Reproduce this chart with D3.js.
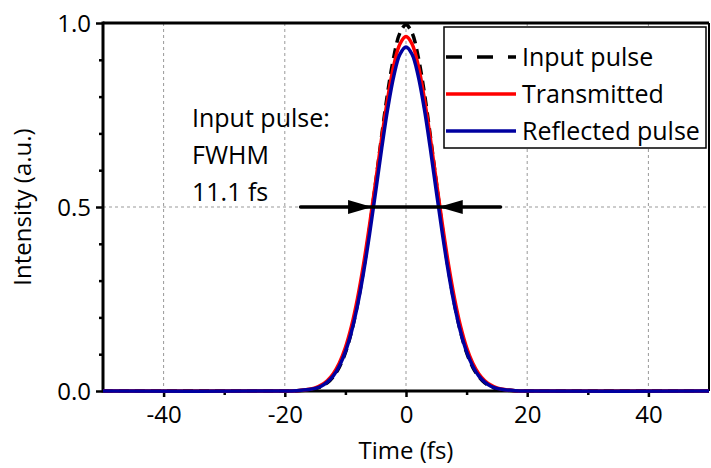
<!DOCTYPE html>
<html>
<head>
<meta charset="utf-8">
<script src="https://cdn.jsdelivr.net/npm/d3@7"></script>
<style>
  body { margin: 0; background: #fff; }
  svg text { font-family: "Open Sans", "Noto Sans", sans-serif; fill: #000; }
</style>
</head>
<body>
<svg id="chart" width="711" height="468"></svg>
<script>
// time axis samples (fs)
const times = [-50, -20, -18, -16, -15, -14, -13, -12, -11, -10, -9, -8, -7, -6, -5, -4, -3, -2, -1, 0,
  1, 2, 3, 4, 5, 6, 7, 8, 9, 10, 11, 12, 13, 14, 15, 16, 18, 20, 50];

const inputPulse = [0, 0, 0.0007, 0.003, 0.006, 0.012, 0.022, 0.039, 0.065, 0.104, 0.161, 0.236, 0.330, 0.443, 0.567, 0.695, 0.813, 0.909, 0.973, 0.995,
  0.973, 0.909, 0.813, 0.695, 0.567, 0.443, 0.330, 0.236, 0.161, 0.104, 0.065, 0.039, 0.022, 0.012, 0.006, 0.003, 0.0007, 0, 0];

const transmitted = [0, 0, 0.001, 0.0045, 0.0086, 0.016, 0.028, 0.047, 0.076, 0.118, 0.176, 0.252, 0.345, 0.453, 0.570, 0.689, 0.797, 0.886, 0.943, 0.963,
  0.943, 0.886, 0.797, 0.689, 0.570, 0.453, 0.345, 0.252, 0.176, 0.118, 0.076, 0.047, 0.028, 0.016, 0.0086, 0.0045, 0.001, 0, 0];

const reflected = [0, 0, 0.001, 0.004, 0.007, 0.013, 0.024, 0.041, 0.068, 0.107, 0.161, 0.233, 0.323, 0.428, 0.543, 0.661, 0.769, 0.857, 0.915, 0.935,
  0.915, 0.857, 0.769, 0.661, 0.543, 0.428, 0.323, 0.233, 0.161, 0.107, 0.068, 0.041, 0.024, 0.013, 0.007, 0.004, 0.001, 0, 0];

const xTicks = [-40, -20, 0, 20, 40];
const xMinor = [-30, -10, 10, 30];
const yTicks = [0, 0.5, 1.0];
const yMinor = [0.1, 0.2, 0.3, 0.4, 0.6, 0.7, 0.8, 0.9];

const seriesNames = ["Input pulse", "Transmitted", "Reflected pulse"];
const annotationLines = ["Input pulse:", "FWHM", "11.1 fs"];
// FWHM arrow: tails and tips at half max
const fwhmArrow = { left: -17.4, tipL: -5.6, tipR: 5.4, right: 15.6, level: 0.5 };

const margin = { top: 23, right: 2, bottom: 77, left: 103 };
const W = 711, H = 468;
const width = W - margin.left - margin.right;
const height = H - margin.top - margin.bottom;

const svg = d3.select("#chart");
const g = svg.append("g").attr("transform", `translate(${margin.left},${margin.top})`);

const x = d3.scaleLinear().domain([-50, 50]).range([0, width]);
const y = d3.scaleLinear().domain([0, 1]).range([height, 0]);

// grid
g.append("g").selectAll("line").data(xTicks).join("line")
  .attr("x1", d => x(d)).attr("x2", d => x(d)).attr("y1", 0).attr("y2", height)
  .attr("stroke", "#999").attr("stroke-width", 1).attr("stroke-dasharray", "3,3");
g.append("line")
  .attr("x1", 0).attr("x2", width).attr("y1", y(0.5)).attr("y2", y(0.5))
  .attr("stroke", "#999").attr("stroke-width", 1).attr("stroke-dasharray", "3,3");

// axes
const xAxis = g.append("g").attr("transform", `translate(0,${height})`)
  .call(d3.axisBottom(x).tickValues(xTicks).tickSize(6).tickPadding(9).tickFormat(d => String(d)));
const xAxisMinor = g.append("g").attr("transform", `translate(0,${height})`)
  .call(d3.axisBottom(x).tickValues(xMinor).tickSize(4).tickFormat(""));
const yAxis = g.append("g")
  .call(d3.axisLeft(y).tickValues(yTicks).tickSize(7).tickPadding(5).tickFormat(d => d.toFixed(1)));
const yAxisMinor = g.append("g")
  .call(d3.axisLeft(y).tickValues(yMinor).tickSize(4).tickFormat(""));

[xAxis, xAxisMinor, yAxis, yAxisMinor].forEach(a => {
  a.select(".domain").remove();
  a.selectAll(".tick line").attr("stroke", "#000").attr("stroke-width", 2.5);
});
xAxis.selectAll("text").attr("font-size", 24).attr("font-family", "Open Sans");
yAxis.selectAll("text").attr("font-size", 24).attr("font-family", "Open Sans").attr("dy", "0.36em");

// frame
g.append("line").attr("x1", 0).attr("x2", width).attr("y1", 0).attr("y2", 0)
  .attr("stroke", "#000").attr("stroke-width", 3);
g.append("line").attr("x1", width).attr("x2", width).attr("y1", 0).attr("y2", height)
  .attr("stroke", "#000").attr("stroke-width", 2);
g.append("line").attr("x1", 0).attr("x2", 0).attr("y1", -1.5).attr("y2", height + 1.5)
  .attr("stroke", "#000").attr("stroke-width", 3);
g.append("line").attr("x1", 0).attr("x2", width).attr("y1", height).attr("y2", height)
  .attr("stroke", "#000").attr("stroke-width", 3);

// curves
const line = d3.line().x(d => x(d[0])).y(d => y(d[1])).curve(d3.curveCatmullRom);
const series = [
  { name: seriesNames[0], values: inputPulse, color: "#000", dash: "10,6", legendDash: "16,15" },
  { name: seriesNames[1], values: transmitted, color: "#ff0000", dash: null, legendDash: null },
  { name: seriesNames[2], values: reflected, color: "#0000a0", dash: null, legendDash: null }
];
series.forEach(s => {
  g.append("path")
    .datum(times.map((t, i) => [t, s.values[i]]))
    .attr("d", line)
    .attr("fill", "none")
    .attr("stroke", s.color)
    .attr("stroke-width", 3.5)
    .attr("stroke-dasharray", s.dash);
});

// FWHM arrows
const ay = y(fwhmArrow.level);
g.append("line")
  .attr("x1", x(fwhmArrow.left)).attr("x2", x(fwhmArrow.right))
  .attr("y1", ay).attr("y2", ay)
  .attr("stroke", "#000").attr("stroke-width", 3.5).attr("stroke-linecap", "round");
const headLen = 24, headHalf = 7;
g.append("path")
  .attr("d", `M${x(fwhmArrow.tipL)},${ay} L${x(fwhmArrow.tipL) - headLen},${ay - headHalf} L${x(fwhmArrow.tipL) - headLen},${ay + headHalf} Z`)
  .attr("fill", "#000");
g.append("path")
  .attr("d", `M${x(fwhmArrow.tipR)},${ay} L${x(fwhmArrow.tipR) + headLen},${ay - headHalf} L${x(fwhmArrow.tipR) + headLen},${ay + headHalf} Z`)
  .attr("fill", "#000");

// annotation text
g.append("g").selectAll("text").data(annotationLines).join("text")
  .attr("x", 89).attr("y", (d, i) => 104 + i * 37)
  .attr("font-size", 25)
  .text(d => d);

// legend
const leg = g.append("g").attr("transform", `translate(${341},${4})`);
leg.append("rect").attr("x", 0).attr("y", 0).attr("width", 262).attr("height", 121)
  .attr("fill", "#fff").attr("stroke", "#000").attr("stroke-width", 1.5);
series.forEach((s, i) => {
  const ly = 30 + i * 37;
  leg.append("line").attr("x1", 2).attr("x2", 72).attr("y1", ly).attr("y2", ly)
    .attr("stroke", s.color).attr("stroke-width", 3.5).attr("stroke-dasharray", s.legendDash);
  leg.append("text").attr("x", 78).attr("y", ly).attr("dy", "0.35em")
    .attr("font-size", 25).text(s.name);
});

// axis titles
svg.append("text")
  .attr("x", margin.left + x(0)).attr("y", 459)
  .attr("text-anchor", "middle").attr("font-size", 24)
  .text("Time (fs)");
svg.append("text")
  .attr("transform", `translate(31,${margin.top + y(0.5)}) rotate(-90)`)
  .attr("text-anchor", "middle").attr("font-size", 24)
  .text("Intensity (a.u.)");
</script>
</body>
</html>
